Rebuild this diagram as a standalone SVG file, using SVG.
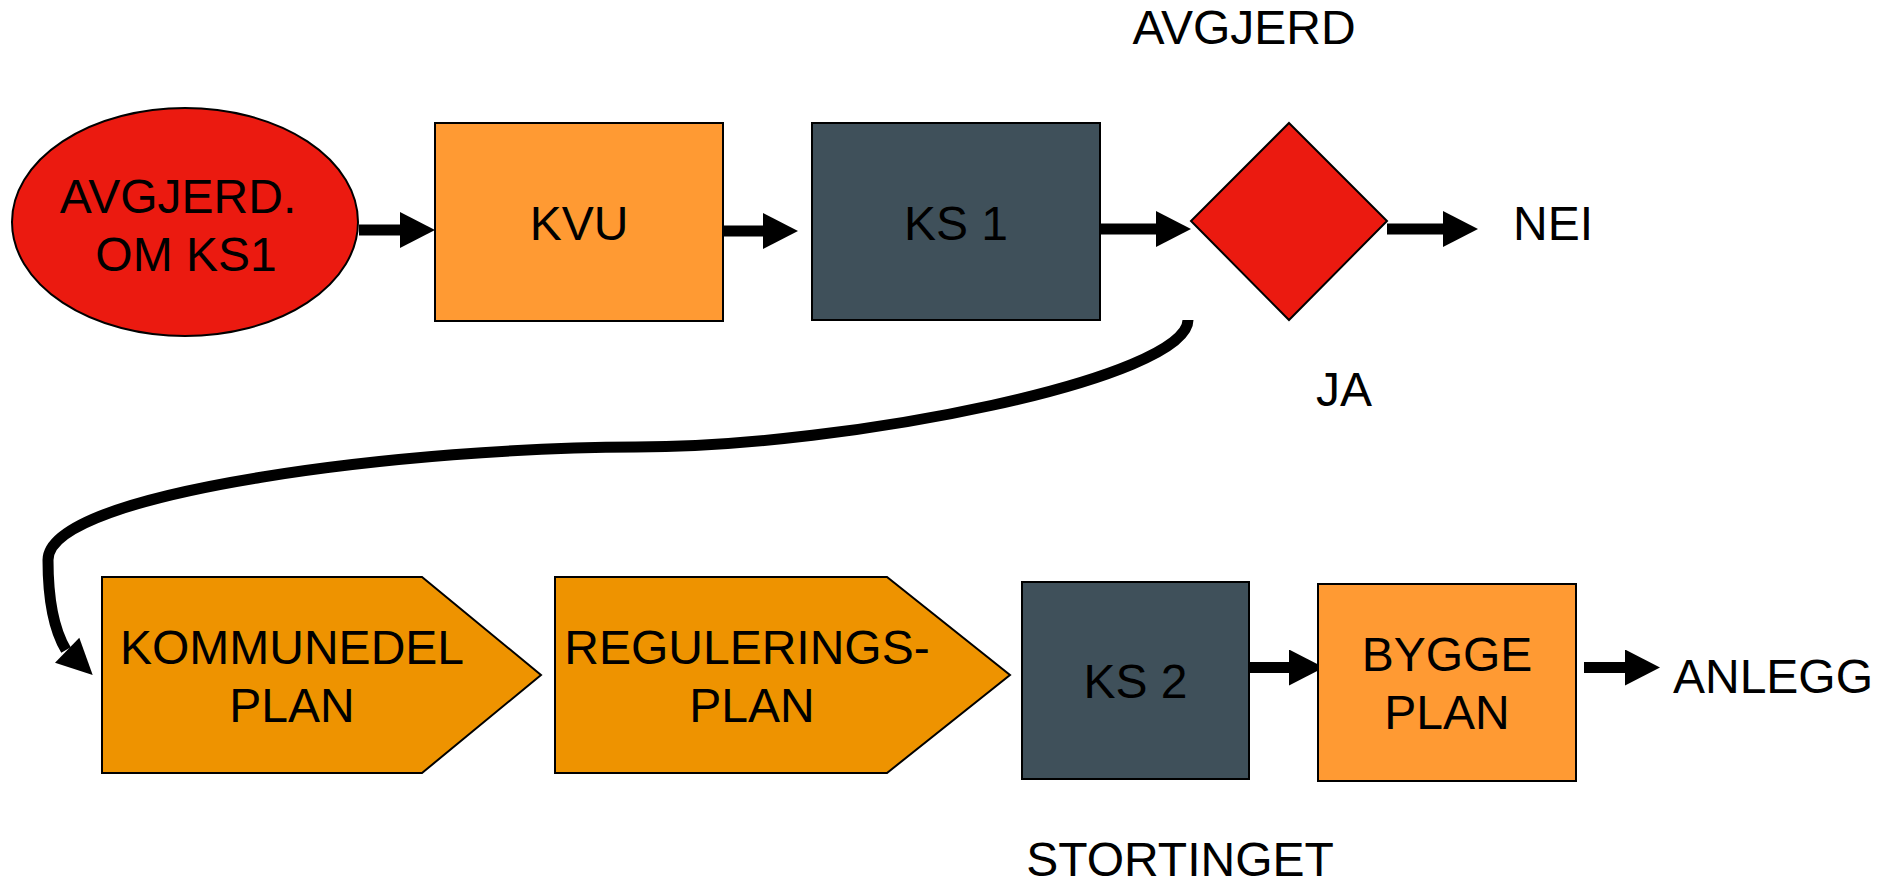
<svg xmlns="http://www.w3.org/2000/svg" width="1881" height="884" viewBox="0 0 1881 884">
<style>
  text { font-family: "Liberation Sans", Arial, sans-serif; font-size: 48px; fill: #000; text-anchor: middle; }
  .red { fill: #EB1A10; stroke: #000; stroke-width: 2; }
  .orange { fill: #FF9A33; stroke: #000; stroke-width: 2; }
  .slate { fill: #3F505A; stroke: #000; stroke-width: 2; }
  .penta { fill: #EE9300; stroke: #000; stroke-width: 2; }
  .conn { stroke: #000; stroke-width: 11; fill: none; }
</style>
<defs>
  <marker id="head" markerUnits="userSpaceOnUse" markerWidth="36" markerHeight="36" refX="0" refY="18" orient="auto">
    <path d="M0,0 L35,18 L0,36 z" fill="#000"/>
  </marker>
</defs>
<rect width="1881" height="884" fill="#fff"/>

<g id="connectors">
  <path class="conn" d="M359,230 L400,230" marker-end="url(#head)"/>
  <path class="conn" d="M723,231 L763,231" marker-end="url(#head)"/>
  <path class="conn" d="M1101,229 L1156,229" marker-end="url(#head)"/>
  <path class="conn" d="M1387,229 L1443,229" marker-end="url(#head)"/>
  <path class="conn" d="M1249,667.5 L1289,667.5" marker-end="url(#head)"/>
  <path class="conn" d="M1584,667.5 L1625,667.5" marker-end="url(#head)"/>
  <path d="M1188,320 C1188,378 850,447 636,447 C420,447 48,490 48,560 C48,600 54,630 66,650" fill="none" stroke="#000" stroke-width="11"/>
  <polygon points="92.7,675 55,662.7 79.3,637.7" fill="#000"/>
</g>

<g id="node-avgjerd-ks1">
  <ellipse class="red" cx="185" cy="222" rx="173" ry="114"/>
  <text x="178" y="213">AVGJERD.</text>
  <text x="186" y="271">OM KS1</text>
</g>
<g id="node-kvu">
  <rect class="orange" x="435" y="123" width="288" height="198"/>
  <text x="579" y="240">KVU</text>
</g>
<g id="node-ks1">
  <rect class="slate" x="812" y="123" width="288" height="197"/>
  <text x="956" y="240">KS 1</text>
</g>
<g id="node-decision">
  <polygon class="red" points="1289,123 1387,221 1289,320 1191,221"/>
</g>
<g id="label-avgjerd"><text x="1244" y="44">AVGJERD</text></g>
<g id="label-nei"><text x="1553" y="240">NEI</text></g>
<g id="label-ja"><text x="1344" y="406">JA</text></g>

<g id="node-kommunedel">
  <polygon class="penta" points="102,577 422,577 541,675 422,773 102,773"/>
  <text x="292" y="664">KOMMUNEDEL</text>
  <text x="292" y="722">PLAN</text>
</g>
<g id="node-regulering">
  <polygon class="penta" points="555,577 887,577 1010,675 887,773 555,773"/>
  <text x="747" y="664">REGULERINGS-</text>
  <text x="752" y="722">PLAN</text>
</g>
<g id="node-ks2">
  <rect class="slate" x="1022" y="582" width="227" height="197"/>
  <text x="1135.5" y="698">KS 2</text>
</g>
<g id="node-byggeplan">
  <rect class="orange" x="1318" y="584" width="258" height="197"/>
  <text x="1447" y="671">BYGGE</text>
  <text x="1447" y="729">PLAN</text>
</g>
<g id="label-anlegg"><text x="1773" y="693">ANLEGG</text></g>
<g id="label-stortinget"><text x="1180" y="876">STORTINGET</text></g>
</svg>
